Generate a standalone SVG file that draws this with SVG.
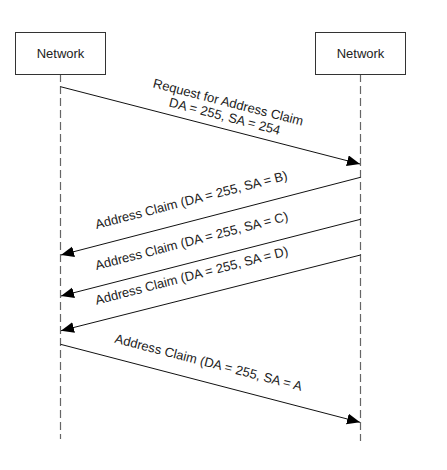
<svg xmlns="http://www.w3.org/2000/svg" width="447" height="470" viewBox="0 0 447 470">
<style>
.box{fill:#fff;stroke:#333;stroke-width:1}
.life{stroke:#666;stroke-width:1.2;stroke-dasharray:8 4;fill:none}
.msg{stroke:#111;stroke-width:1;fill:none;marker-end:url(#ah)}
text{font-family:"Liberation Sans",Arial,sans-serif;font-size:13px;fill:#222}
</style>
<defs>
<marker id="ah" markerUnits="userSpaceOnUse" markerWidth="14" markerHeight="12" refX="13" refY="5.5" orient="auto">
<path d="M0,0 L13,5.5 L0,11 z" fill="#000"/>
</marker>
</defs>
<rect width="447" height="470" fill="#fff"/>
<g id="lifelines">
<line class="life" x1="60.5" y1="74" x2="60.5" y2="439"/>
<line class="life" x1="360.5" y1="74" x2="360.5" y2="441"/>
</g>
<g id="node-left">
<rect class="box" x="15.5" y="32.5" width="90" height="42"/>
<text x="60.5" y="57.5" text-anchor="middle">Network</text>
</g>
<g id="node-right">
<rect class="box" x="315.5" y="32.5" width="90" height="42"/>
<text x="360.5" y="57.5" text-anchor="middle">Network</text>
</g>
<g id="connectors">
<line class="msg" x1="60.5" y1="86.7" x2="360" y2="164"/>
<line class="msg" x1="360.5" y1="177.3" x2="61" y2="255"/>
<line class="msg" x1="360.5" y1="219.3" x2="61" y2="296"/>
<line class="msg" x1="360.5" y1="255" x2="61" y2="330.7"/>
<line class="msg" x1="60.5" y1="344.3" x2="360" y2="422.3"/>
</g>
<g id="labels">
<text transform="translate(227.2,106.5) rotate(14.45)" text-anchor="middle"><tspan x="0" y="0">Request for Address Claim</tspan><tspan x="0" y="14.5">DA = 255, SA = 254</tspan></text>
<text transform="translate(96.5,229) rotate(-14.5)">Address Claim (DA = 255, SA = B)</text>
<text transform="translate(96.5,270) rotate(-14.5)">Address Claim (DA = 255, SA = C)</text>
<text transform="translate(96.5,304.7) rotate(-14.5)">Address Claim (DA = 255, SA = D)</text>
<text transform="translate(114,342.6) rotate(14.5)">Address Claim (DA = 255, SA = A</text>
</g>
</svg>
